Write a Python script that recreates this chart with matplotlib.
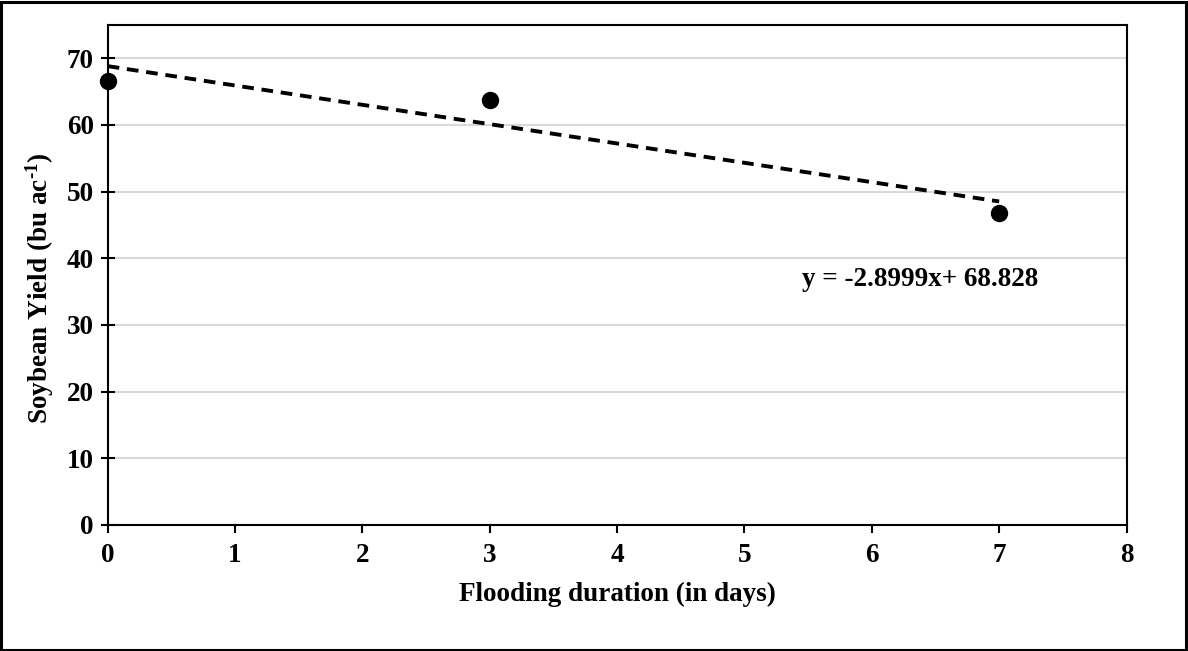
import matplotlib
matplotlib.use("Agg")
import matplotlib.pyplot as plt
import numpy as np
from matplotlib.patches import Rectangle

days = [0, 3, 7]
yield_bu = [66.6, 63.7, 46.8]
slope = -2.8999
intercept = 68.828
x_ticks = [0, 1, 2, 3, 4, 5, 6, 7, 8]
y_ticks = [0, 10, 20, 30, 40, 50, 60, 70]

plt.rcParams['font.family'] = ['Liberation Serif', 'DejaVu Serif']
plt.rcParams['font.weight'] = 'bold'
plt.rcParams['mathtext.fontset'] = 'custom'
plt.rcParams['mathtext.rm'] = 'Liberation Serif:bold'
plt.rcParams['mathtext.bf'] = 'Liberation Serif:bold'
plt.rcParams['mathtext.it'] = 'Liberation Serif:bold'
plt.rcParams['mathtext.default'] = 'rm'

FS = 19.5

fig = plt.figure(figsize=(11.88, 6.51), dpi=100)
ax = fig.add_axes([107.7/1188, 1 - 525/651, (1126.5-107.7)/1188, (525-25)/651])

fig.patches.append(Rectangle((0.001, 0.002), 0.997, 0.995, transform=fig.transFigure,
                             fill=False, edgecolor='black', linewidth=2.2))

xs = np.array([min(days), max(days)])
ax.plot(xs, slope * xs + intercept, linestyle=(0, (3, 2)), color='black', linewidth=2.8, zorder=3)
ax.plot(days, yield_bu, 'o', color='black', markersize=11.5, zorder=4, clip_on=False)

ax.set_xlim(0, 8)
ax.set_ylim(0, 75)
ax.set_xticks(x_ticks)
ax.set_yticks(y_ticks)
ax.yaxis.grid(True, color='#d9d9d9', linewidth=1.5)
ax.set_axisbelow(True)
for s in ax.spines.values():
    s.set_linewidth(1.5)
    s.set_color('black')
ax.tick_params(axis='y', direction='inout', length=10, width=1.5, labelsize=FS, pad=5)
ax.tick_params(axis='x', direction='out', length=6, width=1.5, labelsize=FS, pad=7)

ax.set_xlabel('Flooding duration (in days)', fontsize=FS, fontweight='bold', labelpad=10)
ax.set_ylabel(r'Soybean Yield (bu ac$^{\text{-}1}$)', fontsize=FS, fontweight='bold', labelpad=8)
ax.yaxis.set_label_coords(-0.051, 0.474)

ax.text(5.45, 36.8, f'y = {slope}x+ {intercept}', fontsize=FS, fontweight='bold',
        va='center', ha='left')

fig.savefig('out.png', dpi=100)
